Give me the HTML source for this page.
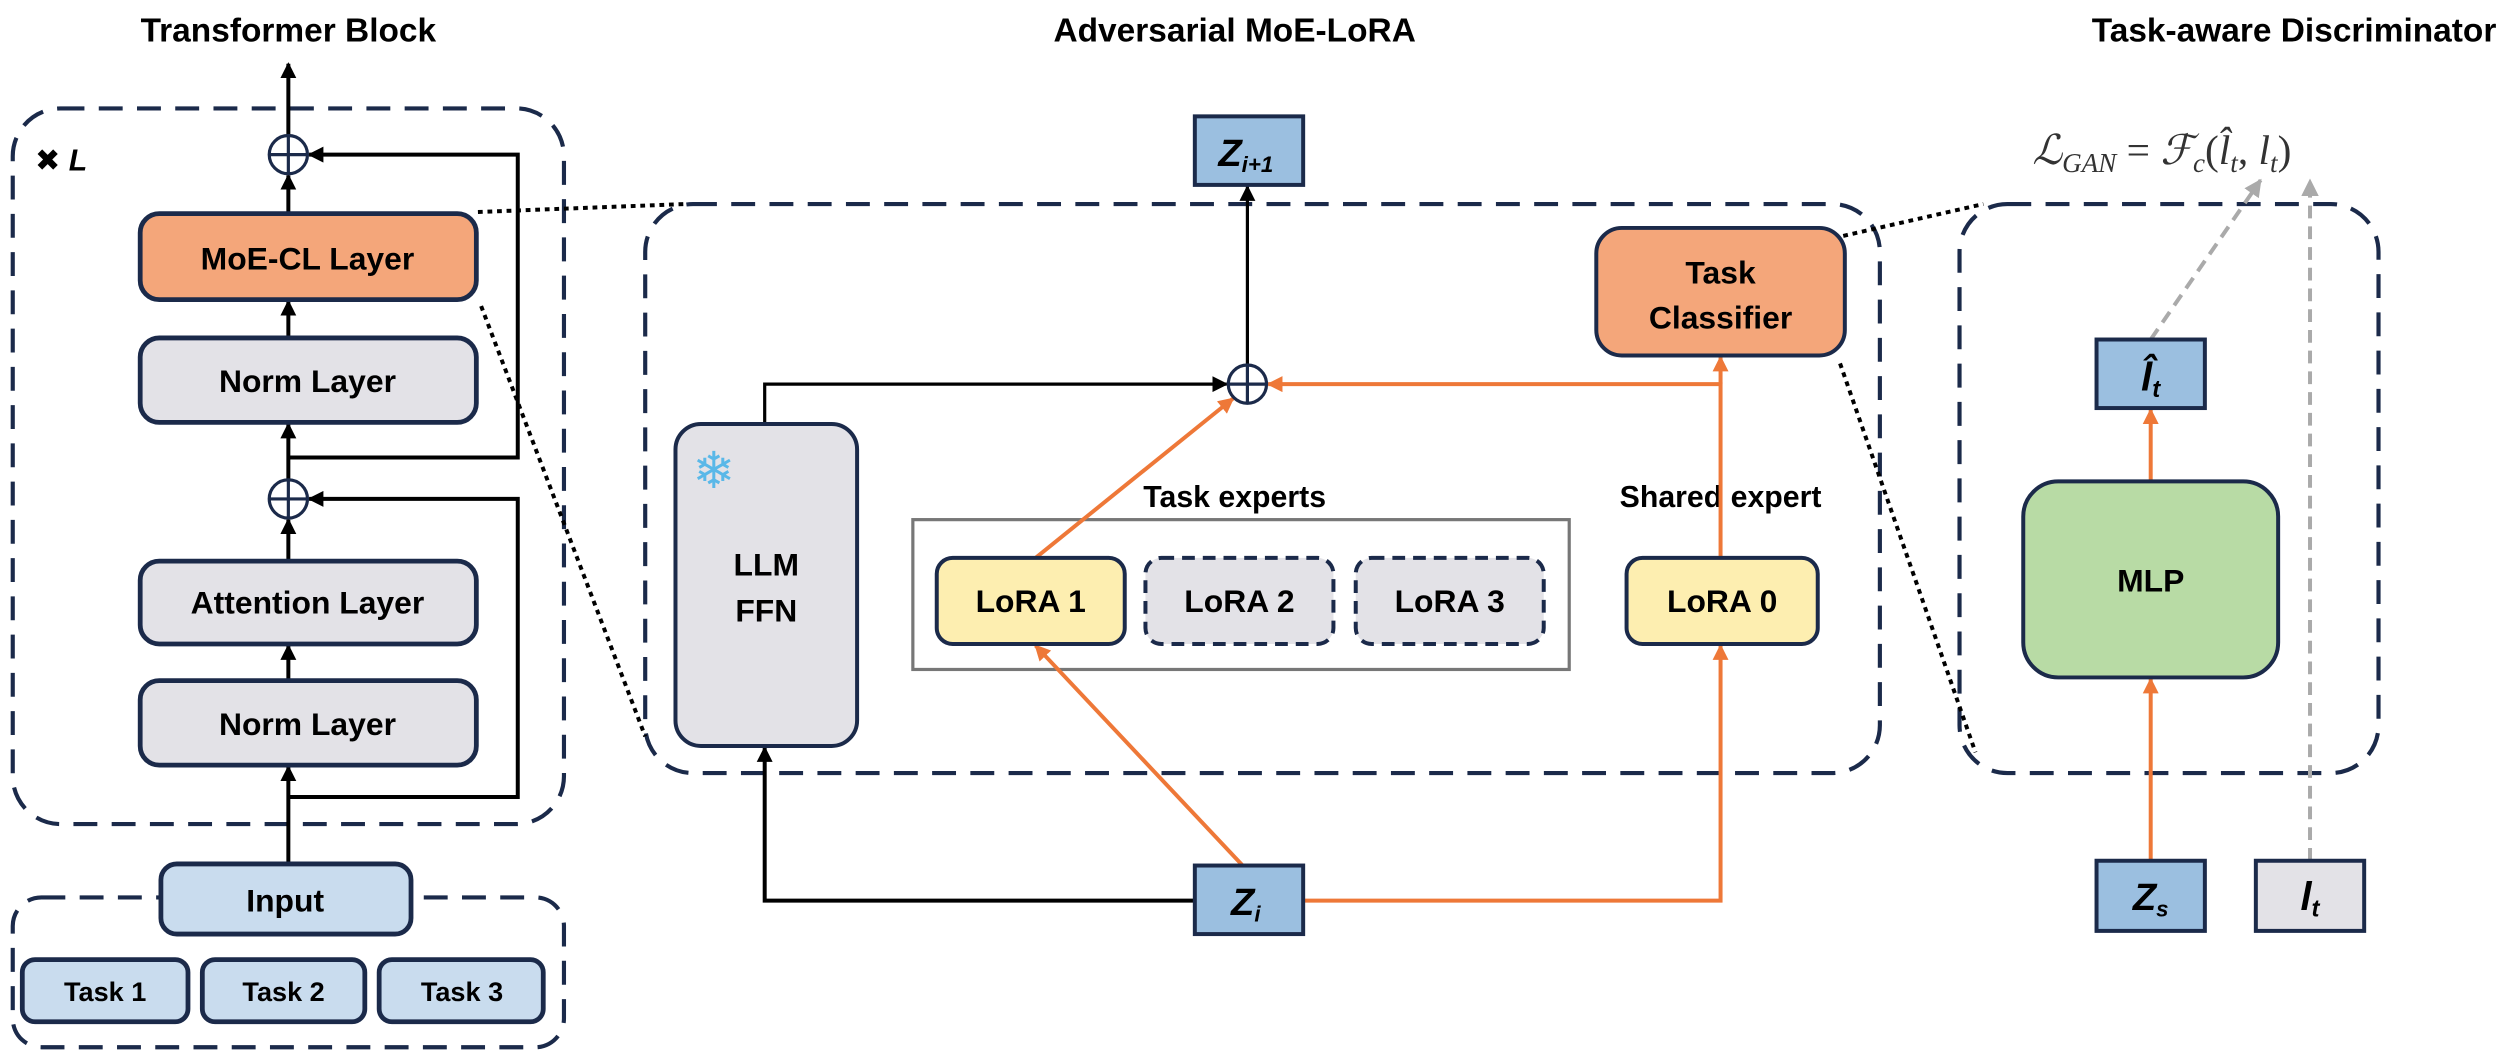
<!DOCTYPE html>
<html><head><meta charset="utf-8"><style>
html,body{margin:0;padding:0;background:#fff;width:2498px;height:1060px;overflow:hidden}
svg{display:block}
text{font-family:"Liberation Sans","DejaVu Sans",sans-serif;font-weight:bold;fill:#000}
</style></head><body>
<svg width="2498" height="1060" viewBox="0 0 1568 665" preserveAspectRatio="none" xmlns="http://www.w3.org/2000/svg">
<defs>
<marker id="ab" markerWidth="10" markerHeight="10" refX="9" refY="5" orient="auto" markerUnits="userSpaceOnUse"><path d="M0,0 L10,5 L0,10 z" fill="#000"/></marker>
<marker id="ao" markerWidth="10" markerHeight="10" refX="9" refY="5" orient="auto" markerUnits="userSpaceOnUse"><path d="M0,0 L10,5 L0,10 z" fill="#ee7838"/></marker>
<marker id="ag" markerWidth="11" markerHeight="11" refX="10" refY="5.5" orient="auto" markerUnits="userSpaceOnUse"><path d="M0,0 L11,5.5 L0,11 z" fill="#aaa"/></marker>
</defs>
<g font-size="21" text-anchor="middle">
<text x="181" y="26">Transformer Block</text>
<text x="775" y="26">Adversarial MoE-LoRA</text>
<text x="1440" y="26">Task-aware Discriminator</text>
</g>
<g fill="none" stroke="#1b2a4a" stroke-width="2.6" stroke-dasharray="15 9">
<rect x="8" y="68" width="346" height="449" rx="30"/>
<rect x="8" y="563" width="346" height="94" rx="18"/>
<rect x="405" y="128" width="775" height="357" rx="30"/>
<rect x="1230" y="128" width="263" height="357" rx="30"/>
</g>
<g stroke="#000" stroke-width="2.5" stroke-dasharray="3 3" fill="none">
<line x1="300" y1="133" x2="430" y2="128"/>
<line x1="302" y1="192" x2="405" y2="462"/>
<line x1="1157" y1="148" x2="1245" y2="128"/>
<line x1="1155" y1="228" x2="1240" y2="472"/>
</g>
<text x="22" y="107" font-size="19" text-anchor="start">✖ <tspan font-style="italic">L</tspan></text>
<g stroke="#000" stroke-width="2.5" fill="none">
<line x1="181" y1="85" x2="181" y2="40" marker-end="url(#ab)"/>
<line x1="181" y1="134" x2="181" y2="110" marker-end="url(#ab)"/>
<line x1="181" y1="212" x2="181" y2="189" marker-end="url(#ab)"/>
<line x1="181" y1="301" x2="181" y2="266" marker-end="url(#ab)"/>
<line x1="181" y1="352" x2="181" y2="326" marker-end="url(#ab)"/>
<line x1="181" y1="427" x2="181" y2="405" marker-end="url(#ab)"/>
<line x1="181" y1="542" x2="181" y2="481" marker-end="url(#ab)"/>
<polyline points="181,287 325,287 325,97 194,97" marker-end="url(#ab)"/>
<polyline points="181,500 325,500 325,313 194,313" marker-end="url(#ab)"/>
</g>
<g fill="#fff" stroke="#1b2a4a" stroke-width="2">
<circle cx="181" cy="97" r="12"/><line x1="169" y1="97" x2="193" y2="97"/><line x1="181" y1="85" x2="181" y2="109"/>
<circle cx="181" cy="313" r="12"/><line x1="169" y1="313" x2="193" y2="313"/><line x1="181" y1="301" x2="181" y2="325"/>
</g>
<g stroke="#1b2a4a" stroke-width="3">
<rect x="88" y="134" width="211" height="54" rx="12" fill="#f4a67a"/>
<rect x="88" y="212" width="211" height="53" rx="12" fill="#e3e2e7"/>
<rect x="88" y="352" width="211" height="52" rx="12" fill="#e3e2e7"/>
<rect x="88" y="427" width="211" height="53" rx="12" fill="#e3e2e7"/>
<rect x="101" y="542" width="157" height="44" rx="10" fill="#c9dcee"/>
<rect x="14" y="602" width="104" height="39" rx="8" fill="#c9dcee"/>
<rect x="127" y="602" width="102" height="39" rx="8" fill="#c9dcee"/>
<rect x="238" y="602" width="103" height="39" rx="8" fill="#c9dcee"/>
</g>
<g font-size="20" text-anchor="middle">
<text x="193" y="169">MoE-CL Layer</text>
<text x="193" y="246">Norm Layer</text>
<text x="193" y="385">Attention Layer</text>
<text x="193" y="461">Norm Layer</text>
<text x="179" y="572">Input</text>
</g>
<g font-size="17" text-anchor="middle">
<text x="66" y="628">Task 1</text><text x="178" y="628">Task 2</text><text x="290" y="628">Task 3</text>
</g>
<rect x="573" y="326" width="412" height="94" fill="none" stroke="#777" stroke-width="2"/>
<text x="775" y="318" font-size="19" text-anchor="middle">Task experts</text>
<text x="1080" y="318" font-size="19" text-anchor="middle">Shared expert</text>
<g stroke="#000" stroke-width="2" fill="none">
<polyline points="480,266 480,241 770,241" marker-end="url(#ab)"/>
<line x1="783" y1="229" x2="783" y2="117" marker-end="url(#ab)"/>
<polyline points="750,565 480,565 480,469" stroke-width="2.5" marker-end="url(#ab)"/>
</g>
<g stroke="#ee7838" stroke-width="2.5" fill="none">
<line x1="650" y1="350" x2="774" y2="250" marker-end="url(#ao)"/>
<polyline points="1080,350 1080,241 796,241" marker-end="url(#ao)"/>
<line x1="1080" y1="241" x2="1080" y2="224" marker-end="url(#ao)"/>
<polyline points="818,565 1080,565 1080,405" marker-end="url(#ao)"/>
<line x1="780" y1="543" x2="650" y2="405" marker-end="url(#ao)"/>
</g>
<g fill="#fff" stroke="#1b2a4a" stroke-width="2">
<circle cx="783" cy="241" r="12"/><line x1="771" y1="241" x2="795" y2="241"/><line x1="783" y1="229" x2="783" y2="253"/>
</g>
<g stroke="#1b2a4a" stroke-width="2.5">
<rect x="424" y="266" width="114" height="202" rx="16" fill="#e3e2e7"/>
<rect x="750" y="73" width="68" height="43" fill="#9bbfe0"/>
<rect x="750" y="543" width="68" height="43" fill="#9bbfe0"/>
<rect x="588" y="350" width="118" height="54" rx="10" fill="#fdeeb0"/>
<rect x="719" y="350" width="118" height="54" rx="10" fill="#e3e2e7" stroke-dasharray="8 5"/>
<rect x="851" y="350" width="118" height="54" rx="10" fill="#e3e2e7" stroke-dasharray="8 5"/>
<rect x="1021" y="350" width="120" height="54" rx="10" fill="#fdeeb0"/>
<rect x="1002" y="143" width="156" height="80" rx="16" fill="#f4a67a"/>
</g>
<text x="448" y="306" font-size="32" text-anchor="middle" style="fill:#5ab8e8">❄</text>
<g font-size="20" text-anchor="middle">
<text x="481" y="361">LLM</text><text x="481" y="390">FFN</text>
<text x="647" y="384">LoRA 1</text><text x="778" y="384">LoRA 2</text><text x="910" y="384">LoRA 3</text>
<text x="1081" y="384">LoRA 0</text>
<text x="1080" y="178">Task</text><text x="1080" y="206">Classifier</text>
</g>
<text x="782" y="104" font-size="24" text-anchor="middle" font-style="italic" font-family="Liberation Serif">Z<tspan font-size="14" dy="4">i+1</tspan></text>
<text x="782" y="574" font-size="24" text-anchor="middle" font-style="italic" font-family="Liberation Serif">Z<tspan font-size="14" dy="4">i</tspan></text>
<text x="1357" y="103" font-size="26" text-anchor="middle" style="font-weight:normal;font-family:'Liberation Serif',serif;fill:#333"><tspan font-style="italic">ℒ</tspan><tspan font-size="17" dy="5" font-style="italic">GAN</tspan><tspan dy="-5"> = </tspan><tspan font-style="italic">ℱ</tspan><tspan font-size="17" dy="5" font-style="italic">c</tspan><tspan dy="-5">(</tspan><tspan font-style="italic">l̂</tspan><tspan font-size="17" dy="5" font-style="italic">t</tspan><tspan dy="-5">, </tspan><tspan font-style="italic">l</tspan><tspan font-size="17" dy="5" font-style="italic">t</tspan><tspan dy="-5">)</tspan></text>
<g stroke="#aaa" stroke-width="2.5" stroke-dasharray="8 5" fill="none">
<line x1="1350" y1="213" x2="1419" y2="113" marker-end="url(#ag)"/>
<line x1="1450" y1="540" x2="1450" y2="113" marker-end="url(#ag)"/>
</g>
<g stroke="#ee7838" stroke-width="2.5">
<line x1="1350" y1="540" x2="1350" y2="426" marker-end="url(#ao)"/>
<line x1="1350" y1="302" x2="1350" y2="257" marker-end="url(#ao)"/>
</g>
<g stroke="#1b2a4a" stroke-width="2.5">
<rect x="1316" y="213" width="68" height="43" fill="#9bbfe0"/>
<rect x="1270" y="302" width="160" height="123" rx="22" fill="#b8dba5"/>
<rect x="1316" y="540" width="68" height="44" fill="#9bbfe0"/>
<rect x="1416" y="540" width="68" height="44" fill="#e3e2e7"/>
</g>
<text x="1350" y="371" font-size="20" text-anchor="middle">MLP</text>
<text x="1350" y="245" font-size="25" text-anchor="middle" font-style="italic" font-family="Liberation Serif">l̂<tspan font-size="15" dy="4">t</tspan></text>
<text x="1350" y="571" font-size="24" text-anchor="middle" font-style="italic" font-family="Liberation Serif">Z<tspan font-size="14" dy="4">s</tspan></text>
<text x="1450" y="571" font-size="25" text-anchor="middle" font-style="italic" font-family="Liberation Serif">l<tspan font-size="15" dy="4">t</tspan></text>
</svg>
</body></html>
